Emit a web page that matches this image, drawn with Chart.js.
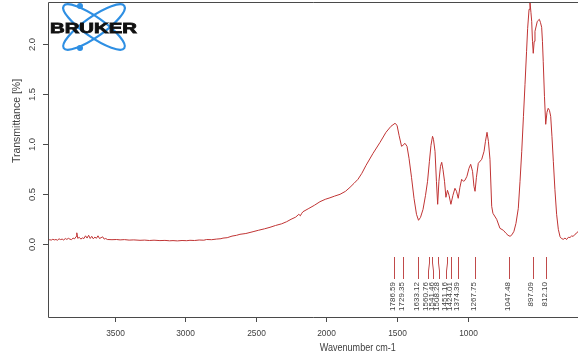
<!DOCTYPE html>
<html>
<head>
<meta charset="utf-8">
<script src="https://cdn.jsdelivr.net/npm/chart.js@4.4.1/dist/chart.umd.min.js"></script>
<style>
html,body{margin:0;padding:0;background:#fff;}
#c{display:block;}
</style>
</head>
<body>
<canvas id="c" width="578" height="358"></canvas>
<script>
// ---- data ----
const wavenumbers = [
4010,4000,3990,3980,3970,3960,3950,3940,3930,3920,3910,3900,3890,3880,3870,3860,3850,3840,3830,3826,3820,3810,3800,3790,3780,3770,3760,3750,3740,3730,3720,3710,3700,3690,3680,3670,3660,3650,3640,3630,
3600,3570,3548,3520,3490,3460,3420,3390,3360,3330,3292,3260,3230,3208,3180,3150,3120,3099,3070,3040,3010,2992,2960,2930,2900,2887,2860,2829,2800,2778,2740,2694,2660,2620,2585,2550,2510,2478,2450,2420,2400,2390,2381,2373,2340,2300,2264,2230,2200,2170,2135,2100,2071,2045,2020,1995,1968,1923,1878,1840,1808,1782,1769,1756,1740,1731,1718,1705,1692,1676,1660,1644,1631,1618,1602,1586,1573,1561,1551,1541,1535,1525,1516,1508,1500,1490,1482,1474,1464,1455,1445,1435,1423,1410,1397,1387,1376,1365,1354,1342,1333,1320,1307,1296,1284,1275,1268,1259,1247,1225,1210,1201,1191,1182,1172,1161,1153,1129,1108,1086,1069,1056,1043,1031,1018,1005,990,979,968,957,947,937,930,921,915,909,904,899,894,888,883,868,855,848,840,835,830,822,814,806,798,790,782,774,765,755,744,733,722,713,701,690,680,669,658,648,637,626,616,606
];
const transmittance = [
0.040,0.046,0.042,0.050,0.044,0.048,0.041,0.055,0.047,0.052,0.043,0.058,0.049,0.060,0.051,0.047,0.062,0.055,0.078,0.115,0.060,0.070,0.052,0.064,0.058,0.085,0.062,0.090,0.058,0.080,0.055,0.072,0.060,0.085,0.058,0.066,0.075,0.052,0.058,0.048,
0.046,0.048,0.044,0.047,0.042,0.044,0.040,0.042,0.038,0.041,0.037,0.039,0.035,0.037,0.034,0.038,0.036,0.040,0.038,0.043,0.041,0.048,0.046,0.052,0.056,0.062,0.066,0.082,0.090,0.100,0.108,0.126,0.140,0.155,0.170,0.188,0.205,0.226,0.250,0.272,0.300,0.285,0.310,0.326,0.355,0.390,0.426,0.450,0.465,0.482,0.500,0.530,0.570,0.610,0.650,0.710,0.790,0.910,1.020,1.120,1.180,1.210,1.190,1.090,0.980,0.990,1.010,0.980,0.860,0.670,0.460,0.300,0.240,0.270,0.350,0.490,0.630,0.830,0.990,1.080,1.050,0.930,0.630,0.400,0.630,0.780,0.820,0.750,0.630,0.470,0.540,0.490,0.400,0.490,0.560,0.530,0.460,0.570,0.650,0.630,0.640,0.680,0.760,0.800,0.730,0.580,0.530,0.670,0.810,0.850,0.930,1.030,1.120,1.030,0.850,0.380,0.310,0.250,0.160,0.140,0.110,0.090,0.080,0.095,0.130,0.210,0.360,0.630,0.930,1.280,1.600,1.930,2.160,2.350,2.420,2.320,2.230,2.030,1.910,2.030,2.130,2.230,2.250,2.220,2.170,2.030,1.830,1.480,1.200,1.320,1.360,1.340,1.280,1.080,0.830,0.550,0.300,0.150,0.076,0.058,0.050,0.063,0.048,0.070,0.068,0.083,0.080,0.100,0.110,0.130
];
const peakWavenumbers = [1786.59,1729.35,1633.12,1560.76,1541.46,1508.28,1451.16,1424.01,1374.39,1267.75,1047.48,897.09,812.10];
const peakLabels = ["1786.59","1729.35","1633.12","1560.76","1541.46","1508.28","1451.16","1424.01","1374.39","1267.75","1047.48","897.09","812.10"];
const xTicks = [3500,3000,2500,2000,1500,1000];
const xTickLabels = ["3500","3000","2500","2000","1500","1000"];
const yTicks = [0,0.5,1,1.5,2];
const yTickLabels = ["0.0","0.5","1.0","1.5","2.0"];
const xTitle = "Wavenumber cm-1";
const yTitle = "Transmittance [%]";
const logoText = "BRUKER";

const FONT = "'Liberation Sans', Arial, sans-serif";
const AXIS = '#4a4a4a';
const TXT = '#404040';

function hText(ctx, s, x, y, size, sx, weight) {
  ctx.save();
  ctx.translate(x, y);
  ctx.scale(sx, 1);
  ctx.font = (weight || '') + ' ' + size + 'px ' + FONT;
  ctx.textAlign = 'center';
  ctx.textBaseline = 'middle';
  ctx.fillText(s, 0, 0);
  ctx.restore();
}
function vText(ctx, s, x, y, size, align) {
  ctx.save();
  ctx.translate(x, y);
  ctx.rotate(-Math.PI / 2);
  ctx.font = size + 'px ' + FONT;
  ctx.textAlign = align || 'center';
  ctx.textBaseline = 'middle';
  ctx.fillText(s, 0, 0);
  ctx.restore();
}

function spreadLabels(px, gap) {
  const clusters = [];
  const pos = cl => {
    const m = cl.members.reduce((a, b) => a + b, 0) / cl.members.length;
    return cl.members.map((_, i) => m + (i - (cl.members.length - 1) / 2) * gap);
  };
  px.forEach(p => {
    clusters.push({ members: [p] });
    let merged = true;
    while (merged && clusters.length > 1) {
      merged = false;
      const c = clusters[clusters.length - 1];
      const prev = clusters[clusters.length - 2];
      const pp = pos(prev), cp = pos(c);
      if (cp[0] < pp[pp.length - 1] + gap) {
        prev.members = prev.members.concat(c.members);
        clusters.pop();
        merged = true;
      }
    }
  });
  const out = [];
  clusters.forEach(cl => pos(cl).forEach(v => out.push(v)));
  return out;
}

const decor = {
  id: 'decor',
  afterDraw(chart) {
    const ctx = chart.ctx;
    const a = chart.chartArea;
    const sx = chart.scales.x, sy = chart.scales.y, s2 = chart.scales.x2;
    ctx.save();
    ctx.strokeStyle = AXIS;
    ctx.lineWidth = 1;
    ctx.beginPath();
    ctx.moveTo(a.right + 1, a.top + 0.5);
    ctx.lineTo(a.left + 0.5, a.top + 0.5);
    ctx.lineTo(a.left + 0.5, a.bottom + 0.5);
    ctx.lineTo(a.right + 1, a.bottom + 0.5);
    ctx.stroke();
    ctx.fillStyle = TXT;
    xTicks.forEach((t, i) => {
      const x = Math.round(sx.getPixelForValue(t)) + 0.5;
      ctx.beginPath();
      ctx.moveTo(x, a.bottom);
      ctx.lineTo(x, a.bottom + 5);
      ctx.stroke();
      hText(ctx, xTickLabels[i], x, a.bottom + 16, 9.5, 0.88);
    });
    hText(ctx, xTitle, (sx.getPixelForValue(2000) + sx.getPixelForValue(1500)) / 2 - 4, a.bottom + 31, 10.5, 0.86);
    yTicks.forEach((t, i) => {
      const y = Math.round(sy.getPixelForValue(t)) + 0.5;
      ctx.beginPath();
      ctx.moveTo(a.left - 5, y);
      ctx.lineTo(a.left, y);
      ctx.stroke();
      vText(ctx, yTickLabels[i], a.left - 16, y, 9.5);
    });
    vText(ctx, yTitle, 17, 121, 10.5);
    // peak markers
    const px = peakWavenumbers.map(w => s2.getPixelForValue(w));
    const lx = spreadLabels(px, 5.5);
    ctx.strokeStyle = '#c04a4a';
    ctx.lineWidth = 1;
    px.forEach((p, i) => {
      const x0 = Math.round(p) + 0.5, x1 = Math.round(lx[i]) + 0.5;
      ctx.beginPath();
      ctx.moveTo(x0, 257);
      ctx.lineTo(x0, 263);
      ctx.lineTo(x1, 271);
      ctx.lineTo(x1, 279);
      ctx.stroke();
      ctx.fillStyle = '#3c3c3c';
      vText(ctx, peakLabels[i], lx[i] - 1.5, 282, 8, 'right');
    });
    // logo
    ctx.strokeStyle = '#2e8fe3';
    ctx.lineWidth = 2.2;
    [35, -35].forEach(deg => {
      ctx.beginPath();
      ctx.ellipse(94, 27, 37, 10, deg * Math.PI / 180, 0, Math.PI * 2);
      ctx.stroke();
    });
    ctx.fillStyle = '#2e8fe3';
    [[80, 6], [80, 48]].forEach(([x, y]) => {
      ctx.beginPath();
      ctx.arc(x, y, 3, 0, Math.PI * 2);
      ctx.fill();
    });
    ctx.save();
    ctx.font = 'bold 15px ' + FONT;
    const w = ctx.measureText(logoText).width;
    ctx.translate(50, 33);
    ctx.scale(87 / w, 1);
    ctx.fillStyle = '#111';
    ctx.strokeStyle = '#111';
    ctx.lineWidth = 0.8;
    ctx.textAlign = 'left';
    ctx.textBaseline = 'alphabetic';
    ctx.fillText(logoText, 0, 0);
    ctx.strokeText(logoText, 0, 0);
    ctx.restore();
    ctx.restore();
  }
};

new Chart(document.getElementById('c'), {
  type: 'line',
  data: {
    datasets: [{
      data: wavenumbers.map((w, i) => ({ x: w, y: transmittance[i] })),
      xAxisID: 'x2',
      yAxisID: 'y',
      borderColor: '#c03434',
      borderWidth: 1,
      pointRadius: 0,
      tension: 0,
      fill: false
    }]
  },
  options: {
    responsive: false,
    animation: false,
    devicePixelRatio: 1,
    layout: { padding: { left: 48, top: 2, right: 0, bottom: 41 } },
    plugins: { legend: { display: false }, tooltip: { enabled: false } },
    scales: {
      x: { type: 'linear', display: false, reverse: true, min: 219, max: 3972 },
      x2: { type: 'linear', display: false, reverse: true, min: 606.6, max: 4011 },
      y: { type: 'linear', display: false, min: -0.727, max: 2.423 }
    }
  },
  plugins: [decor]
});
</script>
</body>
</html>
